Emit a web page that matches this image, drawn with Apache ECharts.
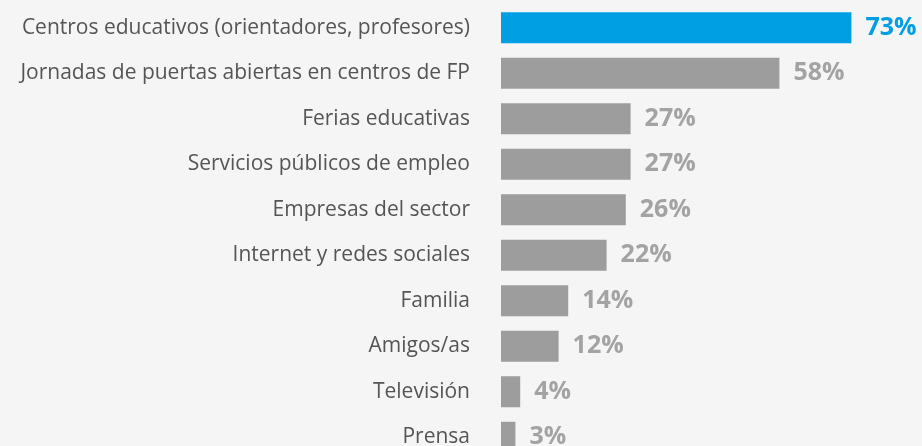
<!DOCTYPE html>
<html><head><meta charset="utf-8">
<script src="https://cdn.jsdelivr.net/npm/echarts@6/dist/echarts.min.js"></script>
<style>html,body{margin:0;padding:0;background:#f5f5f5}#c{width:922px;height:446px}</style>
</head><body><div id="c"></div>
<script>
const categories = ["Centros educativos (orientadores, profesores)","Jornadas de puertas abiertas en centros de FP","Ferias educativas","Servicios públicos de empleo","Empresas del sector","Internet y redes sociales","Familia","Amigos/as","Televisión","Prensa"];
const values = [73,58,27,27,26,22,14,12,4,3];
const highlightIndex = 0;

const chart = echarts.init(document.getElementById('c'));
chart.setOption({
  backgroundColor: '#f5f5f5',
  animation: false,
  grid: {left: 501, top: 5, width: 480, height: 455, outerBoundsMode: 'none', containLabel: false},
  xAxis: {type: 'value', min: 0, max: 100, show: false},
  yAxis: {type: 'category', inverse: true, data: categories,
    axisLine: {show: false}, axisTick: {show: false},
    axisLabel: {margin: 31, fontSize: 21, color: '#555', fontFamily: 'Open Sans'}},
  series: [{type: 'bar', barWidth: 31,
    data: values.map((v, i) => ({value: v,
      itemStyle: {color: i === highlightIndex ? '#009fe3' : '#9e9d9d'},
      label: {color: i === highlightIndex ? '#009fe3' : '#a3a3a3'}})),
    label: {show: true, position: 'right', distance: 14, formatter: '{c}%',
      fontSize: 25, fontWeight: 'bold', fontFamily: 'Open Sans'}
  }]
});
</script></body></html>
